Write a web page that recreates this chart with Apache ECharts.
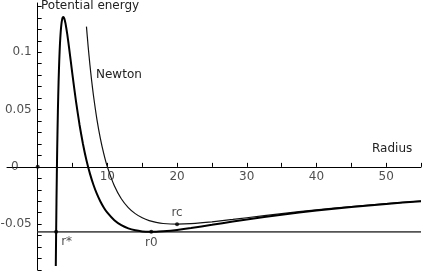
<!DOCTYPE html>
<html><head><meta charset="utf-8">
<script src="https://cdn.jsdelivr.net/npm/echarts@6/dist/echarts.min.js"></script>
<style>html,body{margin:0;padding:0;background:#fff}#c{width:431px;height:273px}</style>
</head><body><div id="c"></div>
<script>
// Relativistic (thick) potential curve
const radiusGR = [2.6,2.7,2.8,2.9,3.0,3.1,3.2,3.3,3.4,3.5,3.6,3.7,3.8,3.9,4.0,4.25,4.5,4.75,5,5.5,6,6.5,7,7.5,8,8.5,9,9.5,10,11,12,13,14,15,16,17,18,20,22,25,28,30,35,40,45,50,55];
const energyGR = [-0.0865,-0.0295,0.0146,0.0484,0.0741,0.0933,0.1074,0.1174,0.1242,0.1283,0.1303,0.1307,0.1298,0.1278,0.125,0.1156,0.1043,0.0922,0.08,0.0571,0.037,0.020,0.0058,-0.0059,-0.0156,-0.0236,-0.0302,-0.0356,-0.04,-0.0466,-0.0509,-0.0537,-0.0554,-0.0563,-0.0566,-0.0566,-0.0562,-0.055,-0.0534,-0.0506,-0.0477,-0.0459,-0.0417,-0.0381,-0.035,-0.0323,-0.030];
// Newton curve
const radiusNewton = [7,7.25,7.5,7.75,8,8.5,9,9.5,10,11,12,13,14,15,16,17,18,20,22,25,28,30,35,40,45,50,55];
const energyNewton = [0.1224,0.1046,0.0889,0.0749,0.0625,0.0415,0.0247,0.0111,0,-0.0165,-0.0278,-0.0355,-0.0408,-0.0444,-0.0469,-0.0484,-0.0494,-0.05,-0.0496,-0.048,-0.0459,-0.0444,-0.0408,-0.0375,-0.0346,-0.032,-0.0298];
// Horizontal level line
const levelRadius = [0, 55];
const levelEnergy = -0.0567;
// Marked points
const markNames = ['r*','r0','rc',''];
const markRadius = [2.65, 16.3, 20, 0];
const markEnergy = [-0.0567, -0.0567, -0.05, 0];
// Ticks
const xTickValues = [0,5,10,15,20,25,30,35,40,45,50,55];
const xLabelValues = [10,20,30,40,50];
const yTickValues = [-0.09,-0.08,-0.07,-0.06,-0.05,-0.04,-0.03,-0.02,-0.01,0,0.01,0.02,0.03,0.04,0.05,0.06,0.07,0.08,0.09,0.1,0.11,0.12,0.13,0.14];
const yLabelValues = [-0.05,0,0.05,0.1];

const zip = (a,b) => a.map((v,i)=>[v,b[i]]);
const font = 'DejaVu Sans';
const chart = echarts.init(document.getElementById('c'), null, {renderer:'canvas'});
const labelPos = {'r*':['right',{offset:[0,10]}], 'r0':['bottom',{}], 'rc':['top',{}]};
const txt = {fontFamily:font,fontSize:12,color:'#222'};
chart.setOption({
  animation:false,
  grid:{left:7,right:10,top:3,bottom:3,containLabel:false,
        outerBounds:{left:-100,right:-100,top:-100,bottom:-100}},
  xAxis:{type:'value',min:-4.4,max:55,
    axisLine:{onZero:true,lineStyle:{color:'#000',width:1}},
    axisTick:{show:true,inside:true,length:4,customValues:xTickValues,lineStyle:{color:'#000'}},
    axisLabel:{show:false},
    splitLine:{show:false}},
  yAxis:{type:'value',min:-0.09,max:0.143,
    axisLine:{onZero:true,lineStyle:{color:'#000',width:1}},
    axisTick:{show:true,inside:true,length:4,customValues:yTickValues,lineStyle:{color:'#000'}},
    axisLabel:{show:false},
    splitLine:{show:false}},
  graphic:[
    {type:'text',left:41,top:0,style:{text:'Potential energy',font:'12px "DejaVu Sans"',fill:'#222'}},
    {type:'text',left:372,top:143,style:{text:'Radius',font:'12px "DejaVu Sans"',fill:'#222'}},
    {type:'text',left:96,top:69,style:{text:'Newton',font:'12px "DejaVu Sans"',fill:'#222'}}
  ],
  series:[
    {type:'line',data:levelRadius.map(r=>[r,levelEnergy]),showSymbol:false,lineStyle:{color:'#555',width:1.6},z:1},
    {type:'line',data:zip(radiusNewton,energyNewton),showSymbol:false,smooth:0.2,lineStyle:{color:'#111',width:1.2},z:2},
    {type:'line',data:zip(radiusGR,energyGR),showSymbol:false,smooth:0.2,lineStyle:{color:'#000',width:2},z:3},
    {type:'scatter',symbolSize:4,itemStyle:{color:'#000'},z:5,
      data:markRadius.map((r,i)=>{
        const n = markNames[i];
        const lp = labelPos[n];
        return {value:[r,markEnergy[i]],name:n,
          label:{show:!!n,formatter:n,position:lp?lp[0]:'top',distance:3,...txt,...(lp?lp[1]:{})}};
      })},
    // x tick labels, placed through the axes' scales
    {type:'scatter',symbolSize:0,silent:true,z:6,
      data:xLabelValues.map(v=>[v,0]),
      label:{show:true,position:'bottom',distance:4,...txt,formatter:p=>String(p.value[0])}},
    // y tick labels
    {type:'scatter',symbolSize:0,silent:true,z:6,
      data:yLabelValues.map(v=>v===0?{value:[0,v],label:{offset:[-13,0]}}:{value:[0,v]}),
      label:{show:true,position:'left',distance:6,...txt,formatter:p=>String(p.value[1])}}
  ]
});
</script></body></html>
